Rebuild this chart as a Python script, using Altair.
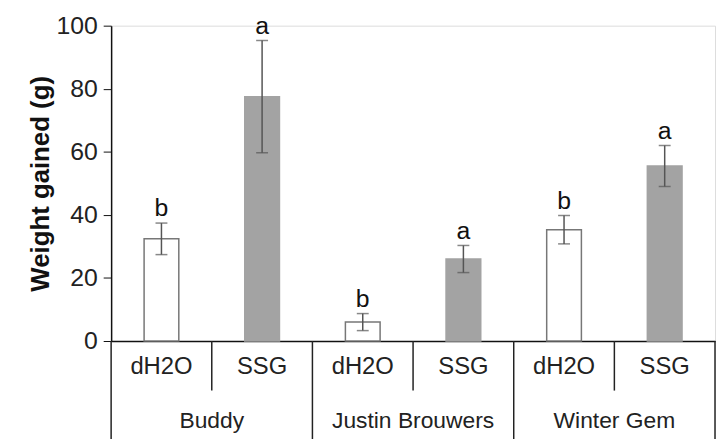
import altair as alt
import pandas as pd

groups = ["Buddy", "Buddy", "Justin Brouwers", "Justin Brouwers", "Winter Gem", "Winter Gem"]
treatments = ["dH2O", "SSG", "dH2O", "SSG", "dH2O", "SSG"]
means = [32.4, 77.5, 6.0, 26.0, 35.3, 55.5]
errors = [5.0, 17.8, 2.7, 4.3, 4.5, 6.5]
letters = ["b", "a", "b", "a", "b", "a"]

df = pd.DataFrame({
    "group": groups,
    "treatment": treatments,
    "mean": means,
    "err": errors,
    "letter": letters,
})
df["cat"] = df["group"] + "|" + df["treatment"]
df["lo"] = df["mean"] - df["err"]
df["hi"] = df["mean"] + df["err"]
order = list(df["cat"])

W, H = 609, 318
FONT = "Liberation Sans"

xscale = alt.Scale(domain=order, paddingInner=0, paddingOuter=0)
x = alt.X("cat:N", scale=xscale, sort=order,
          axis=alt.Axis(title=None, ticks=False, labelExpr="split(datum.label, '|')[1]",
                        labelAngle=0, labelFontSize=24, labelPadding=14, labelColor="#222",
                        domainColor="#111", domainWidth=1.5, labelFont=FONT))
y = alt.Y("mean:Q", scale=alt.Scale(domain=[0, 100], nice=False),
          axis=alt.Axis(title="Weight gained (g)", values=[0, 20, 40, 60, 80, 100],
                        titleFontSize=26, titleFont=FONT, titleFontWeight="bold",
                        titleColor="#111", titlePadding=2,
                        labelFontSize=25, labelFont=FONT, labelColor="#222",
                        labelPadding=6, tickSize=8, tickColor="#111",
                        domainColor="#111", domainWidth=1.5, grid=False))

base = alt.Chart(df)

bars = base.mark_bar(size=35, strokeWidth=1.5).encode(
    x=x, y=y,
    color=alt.Color("treatment:N", scale=alt.Scale(domain=["dH2O", "SSG"], range=["#ffffff", "#a3a3a3"]), legend=None),
    stroke=alt.Stroke("treatment:N", scale=alt.Scale(domain=["dH2O", "SSG"], range=["#777777", "#a3a3a3"]), legend=None),
)

ebar = base.mark_rule(color="#555555", strokeWidth=1.5).encode(
    x=alt.X("cat:N", sort=order), y="lo:Q", y2="hi:Q")
cap_hi = base.mark_tick(color="#555555", size=12, thickness=1.5).encode(
    x=alt.X("cat:N", sort=order), y="hi:Q")
cap_lo = base.mark_tick(color="#555555", size=12, thickness=1.5).encode(
    x=alt.X("cat:N", sort=order), y="lo:Q")

letters_txt = base.mark_text(baseline="bottom", dy=-2, fontSize=25, font=FONT, color="#111").encode(
    x=alt.X("cat:N", sort=order), y="hi:Q", text="letter:N")

group_sep = base.transform_filter(alt.datum.treatment == "dH2O").mark_rule(color="#222", strokeWidth=1.5).encode(
    x=alt.X("cat:N", sort=order, bandPosition=0), y=alt.value(H), y2=alt.value(H + 100))
sub_sep = base.transform_filter(alt.datum.treatment == "SSG").mark_rule(color="#222", strokeWidth=1.5).encode(
    x=alt.X("cat:N", sort=order, bandPosition=0), y=alt.value(H), y2=alt.value(H + 50))
end_sep = base.transform_filter(alt.datum.cat == order[-1]).mark_rule(color="#222", strokeWidth=1.5).encode(
    x=alt.X("cat:N", sort=order, bandPosition=1), y=alt.value(H), y2=alt.value(H + 100))

group_txt = base.transform_filter(alt.datum.treatment == "dH2O").mark_text(
    fontSize=23, font=FONT, color="#222", baseline="middle").encode(
    x=alt.X("cat:N", sort=order, bandPosition=1), y=alt.value(H + 81), text="group:N")

chart = alt.layer(bars, ebar, cap_hi, cap_lo, letters_txt, group_sep, sub_sep, end_sep, group_txt).properties(
    width=W, height=H,
    autosize=alt.AutoSizeParams(type="none"),
    padding={"left": 104, "top": 16, "right": 2, "bottom": 97},
).configure_view(stroke="#555555", strokeWidth=1.5).configure(background="white")

chart.save("out.html", embed_options={"renderer": "svg", "actions": False})
